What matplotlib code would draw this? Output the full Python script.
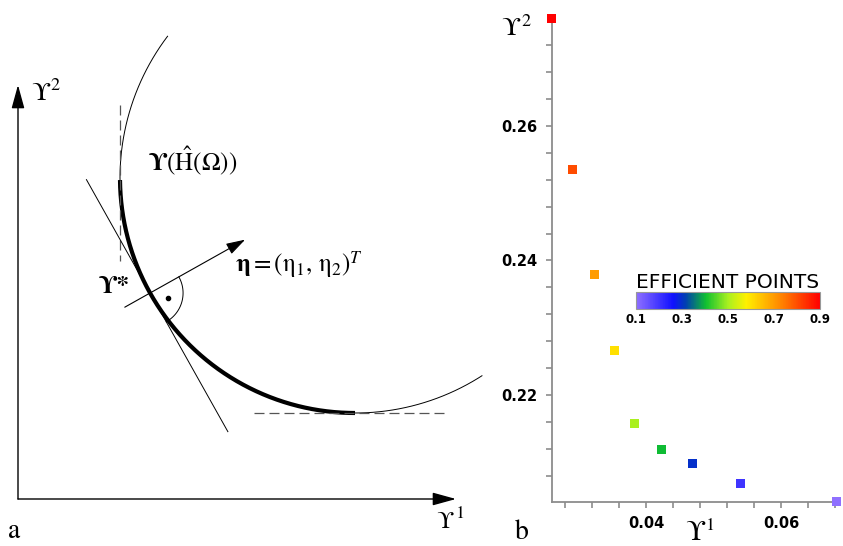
import numpy as np
import matplotlib.pyplot as plt
from matplotlib.colors import LinearSegmentedColormap, Normalize
from matplotlib.patches import FancyArrowPatch
from matplotlib.cm import ScalarMappable

plt.rcParams['mathtext.fontset'] = 'stix'
plt.rcParams['font.family'] = ['STIXGeneral', 'DejaVu Serif']

W, H = 843, 546

# panel b: efficient points
upsilon1 = [0.0260, 0.0291, 0.0323, 0.0353, 0.0383, 0.0422, 0.0469, 0.0539, 0.0682]
upsilon2 = [0.2760, 0.2535, 0.2379, 0.2266, 0.2157, 0.2119, 0.2098, 0.2068, 0.2041]
efficiency = [0.9, 0.8, 0.7, 0.6, 0.5, 0.4, 0.3, 0.2, 0.1]
x_ticks = [0.028, 0.032, 0.036, 0.04, 0.044, 0.048, 0.052, 0.056, 0.06, 0.064, 0.068]
x_labels = ['', '', '', '0.04', '', '', '', '', '0.06', '', '']
y_ticks = [0.208, 0.212, 0.216, 0.22, 0.224, 0.228, 0.232, 0.236, 0.24,
           0.244, 0.248, 0.252, 0.256, 0.26, 0.264, 0.268, 0.272]
y_labels = ['', '', '', '0.22', '', '', '', '', '0.24', '', '', '', '', '0.26', '', '', '']
cbar_ticks = [0.1, 0.3, 0.5, 0.7, 0.9]

# panel a: sketch, in pixel units of the left half
center = (355, 178)
radius = 235
thin_span = (142.9, 302.7)
thick_span = (180.5, 270)
touch_angle = 209.3

cmap = LinearSegmentedColormap.from_list('eff', [
    (0.0, '#8f70ff'), (0.2, '#1010ff'), (0.27, '#0040b0'), (0.38, '#10c030'),
    (0.5, '#a8f020'), (0.6, '#fff000'), (0.78, '#ff8a00'), (1.0, '#ff0000')])
norm = Normalize(0.1, 0.9)


def fx(x):
    return x / W


def fy(y):
    return 1 - y / H


def upsilon(x, y, sup, size, sup_dx, sup_dy):
    # hooked upsilon with a separate, roomy superscript
    fig.text(fx(x), fy(y), 'ϒ', fontsize=size, ha='left', va='baseline')
    fig.text(fx(x + sup_dx), fy(y - sup_dy), sup, fontsize=13, ha='left', va='baseline')


fig = plt.figure(figsize=(8.43, 5.46), dpi=100)

# ---------- panel a ----------
ax0 = fig.add_axes([0, 0, 500 / W, 1])
ax0.set_xlim(0, 500)
ax0.set_ylim(546, 0)
ax0.axis('off')

def arc_xy(a1, a2):
    t = np.radians(np.linspace(a1, a2, 300))
    return center[0] + radius * np.cos(t), center[1] - radius * np.sin(t)

xs, ys = arc_xy(*thin_span)
ax0.plot(xs, ys, color='black', lw=0.7)
xs, ys = arc_xy(*thick_span)
ax0.plot(xs, ys, color='black', lw=3.0, solid_capstyle='butt')

# dashed tangents at the ends
ax0.plot([center[0] - radius] * 2, [105, 261], color='#555555', lw=0.9, dashes=(8, 4))
ax0.plot([254, 448], [center[1] + radius] * 2, color='#555555', lw=0.9, dashes=(8, 4))

# touching point, tangent and normal
ta = np.radians(touch_angle)
P = np.array([center[0] + radius * np.cos(ta), center[1] - radius * np.sin(ta)])
n = np.array([-np.cos(ta), np.sin(ta)])
tdir = np.array([n[1], -n[0]])
if tdir[1] < 0:
    tdir = -tdir
p1, p2 = P - 130 * tdir, P + 159 * tdir
ax0.plot([p1[0], p2[0]], [p1[1], p2[1]], color='black', lw=0.7)
a1, a2 = P - 29 * n, P + 109 * n
ax0.add_patch(FancyArrowPatch(tuple(a1), tuple(a2),
                              arrowstyle='-|>,head_length=0.65,head_width=0.2',
                              mutation_scale=18, lw=0.8, color='black',
                              shrinkA=0, shrinkB=0))
na = np.degrees(np.arctan2(-n[1], n[0]))
ta_ang = np.degrees(np.arctan2(-tdir[1], tdir[0]))
t = np.radians(np.linspace(ta_ang, na, 60))
ax0.plot(P[0] + 33 * np.cos(t), P[1] - 33 * np.sin(t), color='black', lw=0.7)
d = P + 13.5 * (n + tdir)
ax0.plot(d[0], d[1], 'o', color='black', ms=3)

# coordinate axes
ax0.add_patch(FancyArrowPatch((18, 499), (18, 85),
                              arrowstyle='-|>,head_length=0.8,head_width=0.22',
                              mutation_scale=18, lw=1.0, color='black',
                              shrinkA=0, shrinkB=0))
ax0.add_patch(FancyArrowPatch((18, 499), (456, 499),
                              arrowstyle='-|>,head_length=0.8,head_width=0.22',
                              mutation_scale=18, lw=1.0, color='black',
                              shrinkA=0, shrinkB=0))

ax0.text(148, 170, r'$\mathbf{ϒ}(\hat{\mathrm{H}}(\Omega))$', fontsize=18,
         ha='left', va='baseline')
ax0.text(99, 293, 'ϒ*', fontsize=18, fontweight='bold', ha='left', va='baseline')
ax0.text(235, 272, r'$\mathbf{η} = (\mathrm{η}_1,\, \mathrm{η}_2)^{T}$',
         fontsize=18, ha='left', va='baseline')

upsilon(31, 100, '2', 19, 19, 10)
upsilon(436, 528, '1', 17, 20, 10)
fig.text(fx(8), fy(544), 'a', fontsize=20, ha='left', va='bottom')

# ---------- panel b ----------
x0, x1 = 551.7, 838
y0, y1 = 16.5, 501.8
ax = fig.add_axes([fx(x0), fy(y1), (x1 - x0) / W, (y1 - y0) / H])
ax.scatter(upsilon1, upsilon2, c=efficiency, cmap=cmap, norm=norm,
           marker='s', s=42, linewidths=0, clip_on=False, zorder=3)
ax.set_xlim(0.026, 0.0684)
ax.set_ylim(0.2041, 0.2763)
ax.set_xticks(x_ticks)
ax.set_xticklabels(x_labels, family='DejaVu Sans', fontweight='bold', fontsize=10.5)
ax.set_yticks(y_ticks)
ax.set_yticklabels(y_labels, family='DejaVu Sans', fontweight='bold', fontsize=10.5)
for s in ['top', 'right']:
    ax.spines[s].set_visible(False)
for s in ['left', 'bottom']:
    ax.spines[s].set_color('#8c8c8c')
    ax.spines[s].set_linewidth(1.3)
ax.tick_params(axis='both', colors='#8c8c8c', length=4, width=1.2, labelcolor='black')
ax.tick_params(axis='y', pad=6)
ax.tick_params(axis='x', pad=6)
ax.patch.set_alpha(0)

upsilon(501, 35, '2', 19, 20, 9)
upsilon(685, 540, '1', 20, 21, 10)
fig.text(fx(515), fy(545), 'b', fontsize=20, ha='left', va='bottom')

# colour bar
cax = fig.add_axes([fx(636), fy(309), 184 / W, 17 / H])
cb = fig.colorbar(ScalarMappable(norm=norm, cmap=cmap), cax=cax,
                  orientation='horizontal', ticks=cbar_ticks)
cb.outline.set_edgecolor('#999999')
cb.outline.set_linewidth(0.8)
cax.tick_params(length=0, pad=3)
cax.set_xticklabels(['0.1', '0.3', '0.5', '0.7', '0.9'],
                    family='DejaVu Sans', fontweight='bold', fontsize=8.5)
fig.text(fx(728), fy(288), 'EFFICIENT POINTS', fontsize=14.5, family='DejaVu Sans',
         ha='center', va='baseline')

fig.savefig('out.png', dpi=100)
